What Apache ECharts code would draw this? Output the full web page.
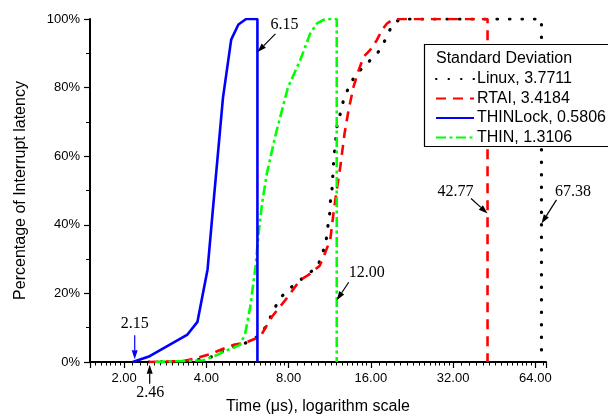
<!DOCTYPE html>
<html><head><meta charset="utf-8">
<script src="https://cdn.jsdelivr.net/npm/echarts@6/dist/echarts.min.js"></script>
<style>html,body{margin:0;padding:0;background:#fff}#c{width:608px;height:417px}</style>
</head><body><div id="c"></div>
<script>
// ---- data ----
const seriesNames = ['Linux', 'RTAI', 'THINLock', 'THIN'];
const stdDevs = ['3.7711', '3.4184', '0.5806', '1.3106'];
const linuxData = [[2.46,0],[3.5,0.2],[4.19,1.5],[4.69,3.5],[5.24,5],[5.79,5.9],[6.39,8.4],[6.75,11.8],[7.09,15.6],[7.56,19.2],[8.34,22.4],[10.21,27.8],[10.65,31.7],[10.96,35],[11.11,39],[11.30,42.9],[11.36,46.4],[11.53,50.3],[11.68,57.9],[12.02,68.6],[12.37,72.5],[12.71,76.4],[13.26,80],[14.03,83.7],[15.48,87],[17.07,90.5],[18.33,94.8],[19.11,98.3],[20.5,100],[67.38,100],[67.38,0]];
const rtaiData = [[2.46,0],[3.3,0.3],[3.64,1],[4.13,2.3],[4.56,3.7],[5.03,5],[5.55,5.6],[6.30,7.4],[6.95,13.2],[7.77,18],[8.82,23.9],[9.46,25.4],[10.38,28],[10.74,30.7],[11.36,35.6],[11.68,43.4],[11.95,49.2],[12.37,57],[12.82,66.7],[13.26,73.5],[13.83,80.3],[14.43,85],[15.05,89],[15.92,91],[16.84,93.9],[17.57,96.8],[18.33,98.7],[19.37,100],[42.77,100],[42.77,0]];
const thinLockData = [[2.15,0],[2.48,1.7],[3.41,8],[3.71,11.7],[4.04,27],[4.22,44],[4.60,77],[4.93,94],[5.24,98.4],[5.59,100],[6.15,100],[6.15,0]];
const thinData = [[2.6,0],[3.9,0.5],[4.37,2],[4.62,3],[5.32,5],[5.55,8.4],[5.79,16.1],[6.05,27.7],[6.21,37.4],[6.39,46],[6.66,55],[7.14,65.7],[7.95,80],[8.82,88],[9.60,95.8],[10.16,98.7],[10.89,100],[12.00,100],[12.00,0]];
const yTickValues = [0, 20, 40, 60, 80, 100];
const annotLabels = ['6.15', '12.00', '42.77', '67.38', '2.15', '2.46'];
const annotX = [6.15, 12.00, 42.77, 67.38, 2.15, 2.46];
const annotY = [90.4, 18, 43.3, 40.4, 0.8, -0.8];

// ---- styles (not data) ----
const SANS = '"Liberation Sans", Arial, sans-serif';
const SERIF = '"Liberation Serif", "Times New Roman", serif';
const colors = ['#000000', '#ff0000', '#0000ff', '#00ff00'];
const lineTypes = [[0.5, 12], [10, 7], 'solid', [10, 3.5, 3, 3.5]];
const caps = ['round', 'butt', 'butt', 'butt'];
const allData = [linuxData, rtaiData, thinLockData, thinData];
// annotation geometry offsets: [tipDx, tipDy, tailDx, tailDy, textDx, textDy]
const annotGeom = [
  [0, 0, 18, -18, 27, -27],
  [0, 0, 12, -18, 30, -27],
  [0, 0, -16.5, -15, -32, -21.5],
  [0, 0, 15, -23.5, 31.5, -32],
  [2, 0, 2, -24, 2, -35],
  [1, 0, 1, 19, 1.5, 28]
];
const annotColors = ['#000', '#000', '#000', '#000', '#0000ff', '#000'];

const chart = echarts.init(document.getElementById('c'), null, {renderer: 'canvas'});
const series = seriesNames.map((n, i) => ({
  name: n + ', ' + stdDevs[i],
  type: 'line',
  data: allData[i],
  symbol: 'none',
  z: i === 2 ? 4 : 3,
  lineStyle: {color: colors[i], width: i === 0 ? 3.2 : 2.6, type: lineTypes[i], cap: caps[i]},
  itemStyle: {color: colors[i]}
}));

chart.setOption({
  animation: false,
  backgroundColor: '#fff',
  textStyle: {fontFamily: SANS},
  title: {text: 'Standard Deviation', left: 436, top: 51, padding: 0, z: 12,
    textStyle: {fontFamily: SANS, fontSize: 16, fontWeight: 'normal', color: '#000', lineHeight: 16}},
  legend: {
    orient: 'vertical', left: 435, top: 71, z: 12,
    padding: 0,
    itemWidth: 38, itemHeight: 10, itemGap: 3.5,
    itemStyle: {opacity: 0},
    textStyle: {fontFamily: SANS, fontSize: 16, color: '#000', lineHeight: 16, padding: [0, 0, 0, -2]},
    data: series.map(s => s.name)
  },
  grid: {left: 90, right: 62, top: 19, bottom: 55, containLabel: false, outerBoundsMode: 'none'},
  xAxis: {
    type: 'log', logBase: 2, min: 1.5, max: 70,
    name: 'Time (μs), logarithm scale', nameLocation: 'middle', nameGap: 37,
    nameTextStyle: {fontFamily: SANS, fontSize: 16, color: '#000'},
    axisLine: {lineStyle: {color: '#000', width: 2}},
    axisTick: {show: true, length: 6, inside: false, lineStyle: {color: '#000', width: 1.2}},
    minorTick: {show: true, splitNumber: 14, length: 3.5, lineStyle: {color: '#000', width: 1}},
    axisLabel: {showMinLabel: false, showMaxLabel: false, margin: 10, fontFamily: SANS, fontSize: 13, color: '#000',
      formatter: v => Number(v).toFixed(2)},
    splitLine: {show: false}, minorSplitLine: {show: false}
  },
  yAxis: {
    type: 'value', min: yTickValues[0], max: yTickValues[yTickValues.length - 1], interval: 20,
    name: 'Percentage of Interrupt latency', nameLocation: 'middle', nameGap: 61, nameRotate: 90,
    nameTextStyle: {fontFamily: SANS, fontSize: 16, color: '#000'},
    axisLine: {show: true, lineStyle: {color: '#000', width: 2}},
    axisTick: {show: true, length: 6, lineStyle: {color: '#000', width: 1.2}},
    minorTick: {show: true, splitNumber: 2, length: 4, lineStyle: {color: '#000', width: 1}},
    axisLabel: {margin: 10, fontFamily: SANS, fontSize: 13, color: '#000', formatter: '{value}%'},
    splitLine: {show: false}
  },
  series: series
});

// legend frame (extends past the right edge like the original)
const graphics = [{type: 'rect', z: 10, shape: {x: 424.5, y: 44.5, width: 220, height: 102},
  style: {fill: '#fff', stroke: '#000', lineWidth: 1.2}}];
// annotations, anchored through the chart's own coordinate system
annotLabels.forEach((lab, i) => {
  const p = chart.convertToPixel({xAxisIndex: 0, yAxisIndex: 0}, [annotX[i], annotY[i]]);
  const g = annotGeom[i];
  const tip = [p[0] + g[0], p[1] + g[1]];
  const tail = [p[0] + g[2], p[1] + g[3]];
  const dx = tip[0] - tail[0], dy = tip[1] - tail[1];
  const len = Math.sqrt(dx * dx + dy * dy);
  const ux = dx / len, uy = dy / len;
  const bx = tip[0] - ux * 9, by = tip[1] - uy * 9;
  const nx = -uy, ny = ux;
  const c = annotColors[i];
  graphics.push({type: 'line', z: 100, shape: {x1: tail[0], y1: tail[1], x2: bx, y2: by}, style: {stroke: c, lineWidth: 1.2}});
  graphics.push({type: 'polygon', z: 100, shape: {points: [tip, [bx + nx * 3, by + ny * 3], [bx - nx * 3, by - ny * 3]]}, style: {fill: c}});
  graphics.push({type: 'text', z: 100, x: p[0] + g[4], y: p[1] + g[5],
    style: {text: lab, fill: '#000', font: '16px ' + SERIF, align: 'center', verticalAlign: 'middle'}});
});
chart.setOption({graphic: graphics});
</script>
</body></html>
